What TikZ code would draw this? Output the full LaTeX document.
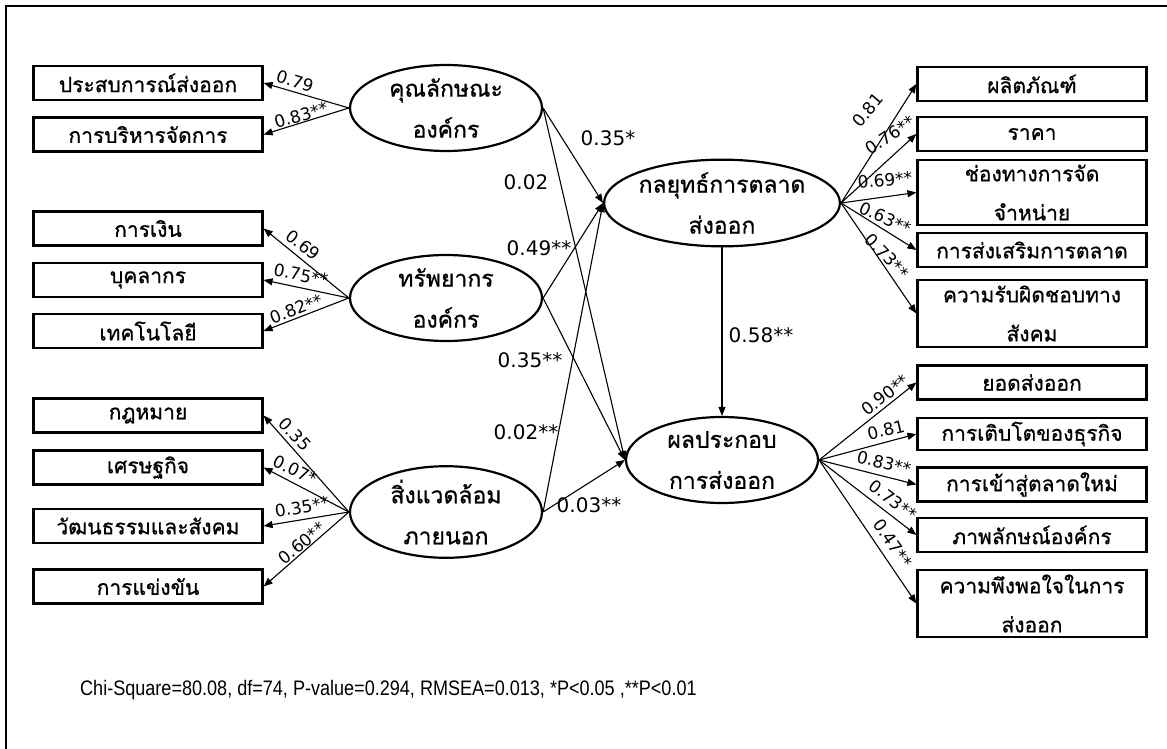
\documentclass[tikz,border=0pt]{standalone}
\usepackage{fontspec}
\usetikzlibrary{arrows.meta,shapes.geometric}
\newfontfamily\thai[Script=Thai,FakeBold=0.8]{Loma}
\newfontfamily\numf{DejaVu Sans}
\newfontfamily\notef[FakeStretch=0.86]{Liberation Sans}
\begin{document}
\begin{tikzpicture}[x=1pt,y=-1pt,
 box/.style={draw,line width=2.2pt,minimum width=229pt,minimum height=34pt,inner sep=0pt,font=\thai\fontsize{21}{39}\selectfont,align=center},
 lat/.style={draw,ellipse,line width=2.2pt,minimum width=192pt,minimum height=86pt,inner sep=0pt,font=\thai\fontsize{23}{41}\selectfont,align=center},
 arr/.style={line width=1.1pt,-{Triangle[length=9pt,width=7pt]}},
 coef/.style={font=\numf\fontsize{20}{20}\selectfont,inner sep=0pt},
 load/.style={font=\numf\fontsize{17}{17}\selectfont,inner sep=0pt}]
\useasboundingbox (0,0) rectangle (1167,749);
\draw[line width=2.5pt] (6,749) -- (6,6) -- (1167,6);

% left boxes
\node[box] (a1) at (148,83) {ประสบการณ์ส่งออก};
\node[box] (a2) at (148,134.5) {การบริหารจัดการ};
\node[box] (b1) at (148,228.5) {การเงิน};
\node[box] (b2) at (148,280) {บุคลากร};
\node[box] (b3) at (148,331) {เทคโนโลยี};
\node[box] (c1) at (148,415.5) {กฎหมาย};
\node[box] (c2) at (148,467.5) {เศรษฐกิจ};
\node[box] (c3) at (148,526) {วัฒนธรรมและสังคม};
\node[box] (c4) at (148,586.5) {การแข่งขัน};

% right boxes
\node[box] (d1) at (1032,84) {ผลิตภัณฑ์};
\node[box] (d2) at (1032,134) {ราคา};
\node[box,minimum height=65pt] (d3) at (1032,192.5) {ช่องทางการจัด\\จำหน่าย};
\node[box] (d4) at (1032,250) {การส่งเสริมการตลาด};
\node[box,minimum height=67pt] (d5) at (1032,313.5) {ความรับผิดชอบทาง\\สังคม};
\node[box] (f1) at (1032,382.5) {ยอดส่งออก};
\node[box,minimum height=32pt] (f2) at (1032,434) {การเติบโตของธุรกิจ};
\node[box] (f3) at (1032,484.5) {การเข้าสู่ตลาดใหม่};
\node[box] (f4) at (1032,535) {ภาพลักษณ์องค์กร};
\node[box,minimum height=67pt] (f5) at (1032,603.5) {ความพึงพอใจในการ\\ส่งออก};

% latent variables
\node[lat] (E1) at (446,108) {คุณลักษณะ\\องค์กร};
\node[lat] (E2) at (446,298) {ทรัพยากร\\องค์กร};
\node[lat] (E3) at (446,512) {สิ่งแวดล้อม\\ภายนอก};
\node[lat] (M1) at (722,203) {กลยุทธ์การตลาด\\ส่งออก};
\node[lat] (M2) at (722,460) {ผลประกอบ\\การส่งออก};

% loadings left
\foreach \t in {a1,a2} \draw[arr] (E1.west) -- (\t.east);
\foreach \t in {b1,b2,b3} \draw[arr] (E2.west) -- (\t.east);
\foreach \t in {c1,c2,c3,c4} \draw[arr] (E3.west) -- (\t.east);
% loadings right
\foreach \t in {d1,d2,d3,d4,d5} \draw[arr] (M1.east) -- (\t.west);
\foreach \t in {f1,f2,f3,f4,f5} \draw[arr] (M2.east) -- (\t.west);

% structural paths
\draw[arr] (E1.east) -- (M1.west);
\draw[arr] (E1.east) -- (M2.west);
\draw[arr] (E2.east) -- (M1.west);
\draw[arr] (E2.east) -- (M2.west);
\draw[arr] (E3.east) -- (M1.west);
\draw[arr] (E3.east) -- (M2.west);
\draw[arr] (M1.south) -- (M2.north);

% structural coefficients
\node[coef] (s1) at (608,138) {0.35*};
\node[coef] (s2) at (526,182) {0.02};
\node[coef] (s3) at (539,248) {0.49**};
\node[coef] (s4) at (530,360) {0.35**};
\node[coef] (s5) at (526,432) {0.02**};
\node[coef] (s6) at (589,505) {0.03**};
\node[coef] (s7) at (761,335) {0.58**};

% loading labels left
\node[load,rotate=-17] (la1) at (295,81) {0.79};
\node[load,rotate=16] (la2) at (301,115) {0.83**};
\node[load,rotate=-38] (lb1) at (303,245) {0.69};
\node[load,rotate=-11] (lb2) at (301,275) {0.75**};
\node[load,rotate=21] (lb3) at (296,309) {0.82**};
\node[load,rotate=-47] (lc1) at (295,434) {0.35};
\node[load,rotate=-26] (lc2) at (295,470) {0.07*};
\node[load,rotate=10] (lc3) at (302,507) {0.35**};
\node[load,rotate=39] (lc4) at (302,543) {0.60**};
% loading labels right
\node[load,rotate=49.5] (ld1) at (868,110) {0.81};
\node[load,rotate=33.7] (ld2) at (890,135) {0.76**};
\node[load,rotate=5.8] (ld3) at (885,180) {0.69**};
\node[load,rotate=-25] (ld4) at (885,218) {0.63**};
\node[load,rotate=-47] (ld5) at (887,256) {0.73**};
\node[load,rotate=38] (lf1) at (885,395) {0.90**};
\node[load,rotate=14] (lf2) at (886,430) {0.81};
\node[load,rotate=-14] (lf3) at (884,463) {0.83**};
\node[load,rotate=-37] (lf4) at (893,500) {0.73**};
\node[load,rotate=-54.7] (lf5) at (893,543) {0.47**};

\node[anchor=west,inner sep=0pt,font=\notef\fontsize{21}{21}\selectfont] (note) at (80,690) {Chi-Square=80.08, df=74, P-value=0.294, RMSEA=0.013, *P<0.05 ,**P<0.01};
\end{tikzpicture}
\end{document}
